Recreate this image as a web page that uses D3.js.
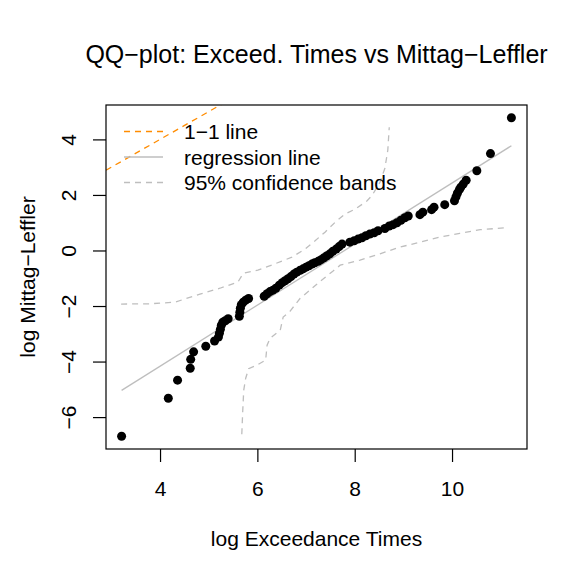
<!DOCTYPE html>
<html><head><meta charset="utf-8">
<script src="https://cdn.jsdelivr.net/npm/d3@7"></script>
<style>
body{margin:0;background:#fff}
svg{display:block}
text{font-family:"Liberation Sans",Arial,Helvetica,sans-serif;fill:#000}
</style>
</head><body>
<svg id="chart" width="581" height="581"></svg>
<script>
// ---- data ----
const titleText = "QQ\u2212plot: Exceed. Times vs Mittag\u2212Leffler";
const xLabel = "log Exceedance Times";
const yLabel = "log Mittag\u2212Leffler";
const xTicks = [4, 6, 8, 10];
const yTicks = [-6, -4, -2, 0, 2, 4];
const legendLabels = ["1\u22121 line", "regression line", "95% confidence bands"];

// sorted log exceedance times (x) vs Mittag-Leffler quantiles (y)
const exceedLog = [3.21,4.17,4.36,4.62,4.63,4.69,4.94,5.12,
  5.20,5.22,5.24,5.26,5.29,5.34,5.40,
  5.63,5.64,5.65,5.67,5.71,5.76,5.82,
  6.14,6.20,6.26,6.32,6.38,6.45,6.51,6.57,6.63,6.69,6.75,6.81,6.88,6.94,7.00,7.06,7.12,7.18,7.25,7.31,7.37,7.43,7.49,7.55,7.62,7.68,7.74,
  7.90,7.99,8.07,8.15,8.23,8.31,8.40,8.48,
  8.62,8.71,8.79,8.87,8.95,9.03,9.10,
  9.34,9.40,9.58,9.63,9.85,10.05,10.08,10.11,10.15,10.18,10.23,10.29,10.51,10.79,11.22];
const mittagLog = [-6.69,-5.32,-4.67,-4.24,-3.92,-3.65,-3.45,-3.26,
  -3.12,-2.98,-2.84,-2.69,-2.58,-2.53,-2.46,
  -2.37,-2.22,-2.08,-1.95,-1.86,-1.79,-1.73,
  -1.65,-1.56,-1.48,-1.43,-1.36,-1.25,-1.16,-1.09,-1.02,-0.94,-0.85,-0.78,-0.71,-0.66,-0.60,-0.55,-0.49,-0.44,-0.39,-0.33,-0.26,-0.19,-0.12,-0.03,0.05,0.14,0.23,
  0.30,0.35,0.41,0.46,0.53,0.59,0.64,0.71,
  0.79,0.88,0.93,1.00,1.09,1.18,1.24,
  1.29,1.38,1.47,1.56,1.65,1.79,1.93,2.06,2.19,2.28,2.39,2.53,2.87,3.49,4.78];

// regression line coefficients
const regIntercept = -8.57;
const regSlope = 1.10;

// 95% confidence bands
const upperBandX = [3.20,3.79,4.31,4.82,5.23,5.60,5.71,6.01,6.36,6.71,6.98,7.18,7.39,7.60,7.80,8.01,8.25,8.36,8.52,8.62,8.68,8.71];
const upperBandY = [-1.93,-1.92,-1.86,-1.57,-1.36,-1.14,-0.82,-0.71,-0.48,-0.24,0.05,0.34,0.66,1.02,1.31,1.49,1.78,1.99,2.46,2.96,3.61,4.44];
const lowerBandX = [5.68,5.70,5.72,5.76,5.82,5.99,6.17,6.20,6.26,6.47,6.53,6.67,6.88,7.08,7.29,7.55,7.70,8.11,8.52,8.93,9.34,9.75,10.16,10.58,11.13];
const lowerBandY = [-6.62,-5.75,-5.03,-4.60,-4.26,-4.13,-3.95,-3.41,-3.16,-2.87,-2.40,-2.19,-1.72,-1.43,-1.11,-0.75,-0.53,-0.35,-0.12,0.12,0.30,0.48,0.62,0.75,0.82];

// ---- layout ----
const W = 581, H = 581;
const plotL = 106, plotR = 527, plotT = 105, plotB = 449;
const base = 21;
const grey = "#bebebe", orange = "#ff8c00";

function padded(arr) {
  const [a, b] = d3.extent(arr);
  const d = (b - a) * 0.04;
  return [a - d, b + d];
}
const x = d3.scaleLinear().domain(padded(exceedLog)).range([plotL, plotR]);
const y = d3.scaleLinear().domain(padded(mittagLog)).range([plotB, plotT]);

const svg = d3.select("#chart");
svg.append("rect").attr("width", W).attr("height", H).attr("fill", "#fff");

svg.append("defs").append("clipPath").attr("id", "clip")
  .append("rect").attr("x", plotL).attr("y", plotT)
  .attr("width", plotR - plotL).attr("height", plotB - plotT);

const g = svg.append("g").attr("clip-path", "url(#clip)");

// 1-1 line
const xd = x.domain();
g.append("line")
  .attr("x1", x(xd[0])).attr("y1", y(xd[0]))
  .attr("x2", x(xd[1])).attr("y2", y(xd[1]))
  .attr("stroke", orange).attr("stroke-width", 1.3).attr("stroke-dasharray", "6,5");

// confidence bands
const line = d3.line().x(d => x(d[0])).y(d => y(d[1]));
[[upperBandX, upperBandY], [lowerBandX, lowerBandY]].forEach(([bx, by]) => {
  g.append("path").datum(bx.map((v, i) => [v, by[i]]))
    .attr("d", line).attr("fill", "none")
    .attr("stroke", grey).attr("stroke-width", 1.3).attr("stroke-dasharray", "6,5");
});

// regression line over data range
const xr = d3.extent(exceedLog);
g.append("line")
  .attr("x1", x(xr[0])).attr("y1", y(regIntercept + regSlope * xr[0]))
  .attr("x2", x(xr[1])).attr("y2", y(regIntercept + regSlope * xr[1]))
  .attr("stroke", grey).attr("stroke-width", 1.3);

// points
svg.append("g").selectAll("circle")
  .data(exceedLog.map((v, i) => [v, mittagLog[i]]))
  .join("circle")
  .attr("cx", d => x(d[0])).attr("cy", d => y(d[1]))
  .attr("r", 4.5).attr("fill", "#000");

// box
svg.append("rect").attr("x", plotL).attr("y", plotT)
  .attr("width", plotR - plotL).attr("height", plotB - plotT)
  .attr("fill", "none").attr("stroke", "#000").attr("stroke-width", 1.2);

// axes
const xAxis = svg.append("g").attr("transform", `translate(0,${plotB})`)
  .call(d3.axisBottom(x).tickValues(xTicks).tickSize(13).tickPadding(15).tickFormat(d3.format("d")));
const yAxis = svg.append("g").attr("transform", `translate(${plotL},0)`)
  .call(d3.axisLeft(y).tickValues(yTicks).tickSize(13).tickFormat(d => d < 0 ? "\u2212" + Math.abs(d) : String(d)));
[xAxis, yAxis].forEach(a => {
  a.select(".domain").remove();
  a.selectAll(".tick line").attr("stroke", "#000").attr("stroke-width", 1.2);
  a.selectAll("text").attr("font-size", base).attr("font-family", "'Liberation Sans',Arial,sans-serif").attr("fill", "#000");
});
xAxis.selectAll(".tick text").attr("dy", null).attr("y", 47);
yAxis.selectAll(".tick text")
  .attr("x", null).attr("dy", null)
  .attr("text-anchor", "middle")
  .attr("transform", "translate(-30,0) rotate(-90)")
  .attr("y", 0);

// titles
svg.append("text").attr("x", (plotL + plotR) / 2).attr("y", 63)
  .attr("text-anchor", "middle").attr("font-size", 25).text(titleText);
svg.append("text").attr("x", (plotL + plotR) / 2).attr("y", 546)
  .attr("text-anchor", "middle").attr("font-size", base).text(xLabel);
svg.append("text").attr("transform", `translate(35,${(plotT + plotB) / 2}) rotate(-90)`)
  .attr("text-anchor", "middle").attr("font-size", base).text(yLabel);

// legend
const legendStyles = [
  {stroke: orange, dash: "6,5"},
  {stroke: grey, dash: null},
  {stroke: grey, dash: "6,5"}
];
const lg = svg.append("g");
legendLabels.forEach((lab, i) => {
  const ly = 131.5 + i * 25.5;
  lg.append("line").attr("x1", 124).attr("x2", 163).attr("y1", ly).attr("y2", ly)
    .attr("stroke", legendStyles[i].stroke).attr("stroke-width", 1.3)
    .attr("stroke-dasharray", legendStyles[i].dash);
  lg.append("text").attr("x", 184).attr("y", ly + 7.5).attr("font-size", base).text(lab);
});
</script>
</body></html>
